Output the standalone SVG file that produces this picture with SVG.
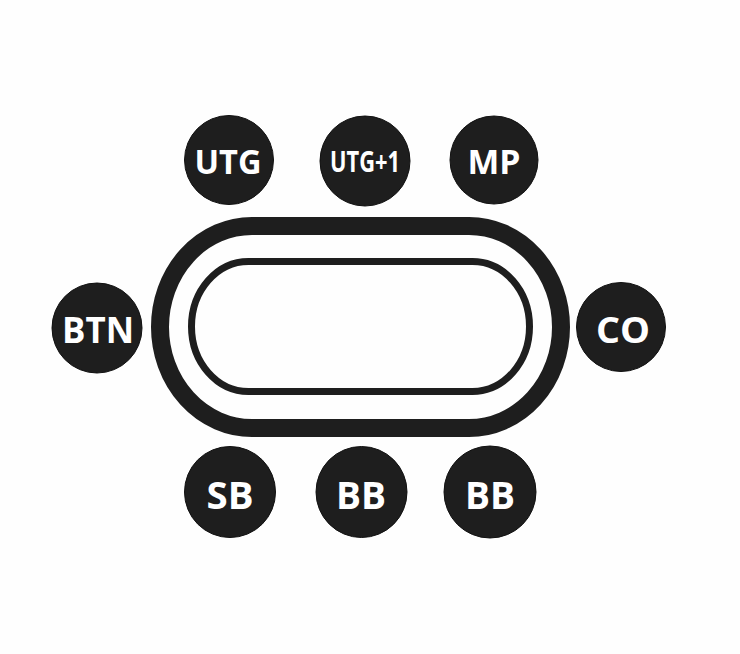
<svg xmlns="http://www.w3.org/2000/svg" width="740" height="654" viewBox="0 0 740 654">
<style>
.seat{fill:#1e1e1e;stroke:#111;stroke-width:1}
.lbl{fill:#fff;font-family:"Open Sans","Liberation Sans",sans-serif;font-weight:700;text-anchor:middle;stroke:#222;stroke-width:0.6;paint-order:stroke}
.ring{fill:none;stroke:#1e1e1e}
</style>
<rect width="740" height="654" fill="#fefefe"/>
<g id="table">
<rect class="ring" x="160" y="226" width="401" height="202" rx="92" ry="101" stroke-width="18" fill="#fff"/>
<rect class="ring" x="191.5" y="261.5" width="338" height="130" rx="57" ry="65" stroke-width="7"/>
</g>
<g id="utg"><circle class="seat" cx="229" cy="160" r="44.5"/><text class="lbl" x="228" y="174" font-size="34" textLength="67" lengthAdjust="spacingAndGlyphs">UTG</text></g>
<g id="utg1"><circle class="seat" cx="365" cy="161" r="45"/><text class="lbl" x="365" y="172" font-size="28" textLength="70" lengthAdjust="spacingAndGlyphs">UTG+1</text></g>
<g id="mp"><circle class="seat" cx="494" cy="160" r="44"/><text class="lbl" x="494" y="174" font-size="34" textLength="53" lengthAdjust="spacingAndGlyphs">MP</text></g>
<g id="btn"><circle class="seat" cx="97" cy="328" r="45"/><text class="lbl" x="98" y="343" font-size="36" textLength="72" lengthAdjust="spacingAndGlyphs">BTN</text></g>
<g id="co"><circle class="seat" cx="621" cy="327" r="44.5"/><text class="lbl" x="623" y="343" font-size="36" textLength="54" lengthAdjust="spacingAndGlyphs">CO</text></g>
<g id="sb"><circle class="seat" cx="230" cy="492" r="45.5"/><text class="lbl" x="230" y="509" font-size="38" textLength="47" lengthAdjust="spacingAndGlyphs">SB</text></g>
<g id="bb1"><circle class="seat" cx="361.5" cy="492" r="45.5"/><text class="lbl" x="361" y="509" font-size="38" textLength="50" lengthAdjust="spacingAndGlyphs">BB</text></g>
<g id="bb2"><circle class="seat" cx="490" cy="492" r="46"/><text class="lbl" x="490" y="509" font-size="38" textLength="50" lengthAdjust="spacingAndGlyphs">BB</text></g>
<g id="connectors"></g>
</svg>
